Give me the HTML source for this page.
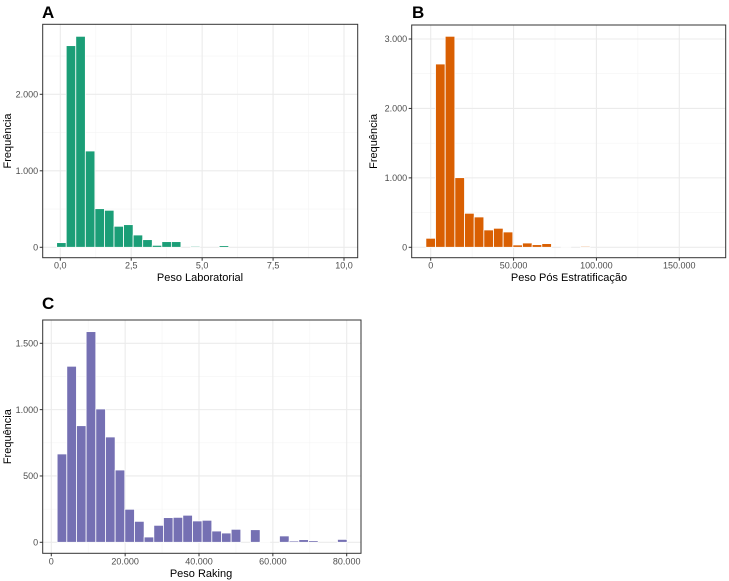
<!DOCTYPE html>
<html><head><meta charset="utf-8">
<style>
html,body{margin:0;padding:0;background:#fff;}
svg{display:block;font-family:"Liberation Sans",Arial,sans-serif;}
</style></head>
<body>
<svg id="chart" width="729" height="581" viewBox="0 0 729 581" xmlns="http://www.w3.org/2000/svg"></svg>
<script>
// Panel A data
const aCounts = [61,2636,2758,1259,505,484,275,296,161,100,26,74,74,0,13,0,0,22,0,0,0,0,0,0,0,0,0,0,0,0];
const aXTicks = [0,2.5,5,7.5,10];
const aXTickLabels = ["0,0","2,5","5,0","7,5","10,0"];
const aYTicks = [0,1000,2000];
const aYTickLabels = ["0","1.000","2.000"];
// Panel B data
const bCounts = [130,2640,3039,1003,490,437,250,274,221,34,62,38,53,0,5,0,14,0,0,0,0,0,0,0,0,0,0,0,0,0];
const bXTicks = [0,50000,100000,150000];
const bXTickLabels = ["0","50.000","100.000","150.000"];
const bYTicks = [0,1000,2000,3000];
const bYTickLabels = ["0","1.000","2.000","3.000"];
// Panel C data
const cCounts = [666,1327,879,1588,1005,794,545,249,158,40,128,186,188,204,161,166,85,70,98,0,95,3,0,48,10,20,12,0,0,22];
const cXTicks = [0,20000,40000,60000,80000];
const cXTickLabels = ["0","20.000","40.000","60.000","80.000"];
const cYTicks = [0,500,1000,1500];
const cYTickLabels = ["0","500","1.000","1.500"];

const NS="http://www.w3.org/2000/svg";
const svg=document.getElementById('chart');
function mk(tag,attrs,parent){const e=document.createElementNS(NS,tag);for(const k in attrs)e.setAttribute(k,attrs[k]);(parent||svg).appendChild(e);return e;}

function panel(cfg){
  const g=mk('g',{});
  
  
  const L=cfg.box[0],T=cfg.box[1],R=cfg.box[2],B=cfg.box[3];
  const xs=v=>cfg.x0px+(v-cfg.x0v)*(cfg.x1px-cfg.x0px)/(cfg.x1v-cfg.x0v);
  const ys=v=>cfg.y0px-v*cfg.ypx;
  mk('rect',{x:L,y:T,width:R-L,height:B-T,fill:'#fff'},g);
  // minor grid
  for(let i=0;i<cfg.xTicks.length-1;i++){const m=(cfg.xTicks[i]+cfg.xTicks[i+1])/2;const l=mk('line',{x1:xs(m),x2:xs(m),y1:T,y2:B,stroke:'#f4f4f4','stroke-width':0.6},g);}
  const ystep=cfg.yTicks[1]-cfg.yTicks[0];
  for(let v=ystep/2;ys(v)>T;v+=ystep){const l=mk('line',{x1:L,x2:R,y1:ys(v),y2:ys(v),stroke:'#f4f4f4','stroke-width':0.6},g);}
  // major grid
  cfg.xTicks.forEach(v=>{const l=mk('line',{x1:xs(v),x2:xs(v),y1:T,y2:B,stroke:'#ebebeb','stroke-width':1.1},g);});
  cfg.yTicks.forEach(v=>{const l=mk('line',{x1:L,x2:R,y1:ys(v),y2:ys(v),stroke:'#ebebeb','stroke-width':1.1},g);});
  // bars
  const bwpx=Math.abs(xs(cfg.bw)-xs(0));
  cfg.counts.forEach((c,i)=>{
    if(c<=0)return;
    const cx=xs(cfg.c0+i*cfg.bw);
    const r=mk('rect',{x:cx-bwpx/2,y:ys(c),width:bwpx,height:ys(0)-ys(c),fill:cfg.color,stroke:'#fff','stroke-width':0.8},g);
    
    
  });
  // border
  mk('rect',{x:L,y:T,width:R-L,height:B-T,fill:'none',stroke:'#333','stroke-width':1},g);
  // ticks
  cfg.xTicks.forEach((v,i)=>{
    mk('line',{x1:xs(v),x2:xs(v),y1:B,y2:B+3,stroke:'#333','stroke-width':1},g);
    const t=mk('text',{x:xs(v),y:B+11,'text-anchor':'middle','font-size':9,fill:'#4d4d4d'},g);
    t.textContent=cfg.xLabels[i];
    
    
  });
  cfg.yTicks.forEach((v,i)=>{
    mk('line',{x1:L-3,x2:L,y1:ys(v),y2:ys(v),stroke:'#333','stroke-width':1},g);
    const t=mk('text',{x:L-4.5,y:ys(v)+3.2,'text-anchor':'end','font-size':9,fill:'#4d4d4d'},g);
    t.textContent=cfg.yLabels[i];
    
    
  });
  const xt=mk('text',{x:cfg.xTitle[1],y:cfg.xTitle[2],'text-anchor':'middle','font-size':11,fill:'#000'},g);
  xt.textContent=cfg.xTitle[0];
  
  
  const yc=(T+B)/2;
  const yt=mk('text',{x:cfg.yTitleX,y:yc,'text-anchor':'middle','font-size':11,fill:'#000',transform:`rotate(-90 ${cfg.yTitleX} ${yc})`},g);
  yt.textContent='Frequência';
  
  
  const tag=mk('text',{x:cfg.tag[1],y:cfg.tag[2],'font-size':17,'font-weight':'bold',fill:'#000'},g);
  tag.textContent=cfg.tag[0];
  
  
}

panel({name:'panel-a',box:[42.7,24.3,357.7,257.7],x0v:0,x0px:60.3,x1v:10,x1px:344,y0px:247.3,ypx:153/2000,
  bw:0.337,c0:0.04,counts:aCounts,color:'#1b9e77',xTicks:aXTicks,xLabels:aXTickLabels,yTicks:aYTicks,yLabels:aYTickLabels,
  xTitle:['Peso Laboratorial',200,281],yTitleX:11,tag:['A',42,18]});
panel({name:'panel-b',box:[411.7,25,725.7,257.7],x0v:0,x0px:430.7,x1v:150000,x1px:679.3,y0px:247.3,ypx:208.3/3000,
  bw:5830,c0:0,counts:bCounts,color:'#d95f02',xTicks:bXTicks,xLabels:bXTickLabels,yTicks:bYTicks,yLabels:bYTickLabels,
  xTitle:['Peso Pós Estratificação',569,281],yTitleX:377,tag:['B',412,18]});
panel({name:'panel-c',box:[42.7,320,361,553.3],x0v:0,x0px:51.3,x1v:80000,x1px:346.7,y0px:542.3,ypx:199/1500,
  bw:2618,c0:2890,counts:cCounts,color:'#7570b3',xTicks:cXTicks,xLabels:cXTickLabels,yTicks:cYTicks,yLabels:cYTickLabels,
  xTitle:['Peso Raking',201,577],yTitleX:11,tag:['C',42,309]});
</script>
</body></html>
